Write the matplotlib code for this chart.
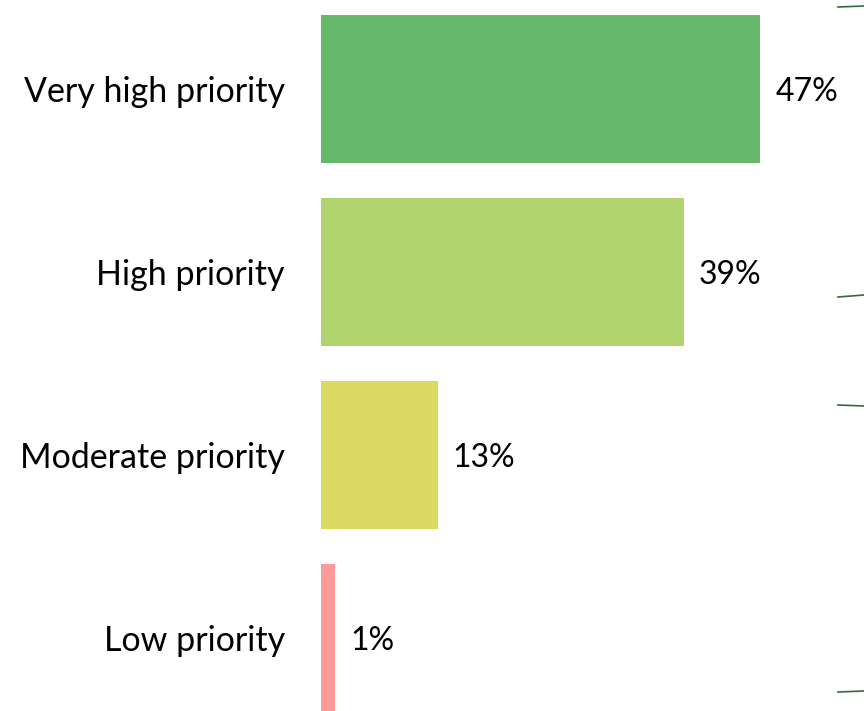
import matplotlib.pyplot as plt
from matplotlib.lines import Line2D

categories = ["Very high priority", "High priority", "Moderate priority", "Low priority"]
values = [47, 38.8, 12.5, 1.5]
labels = ["47%", "39%", "13%", "1%"]
colors = ["#66b86b", "#b1d46e", "#dbdb63", "#ff9a9a"]

plt.rcParams['font.family'] = ['Lato', 'DejaVu Sans']

fig = plt.figure(figsize=(8.64, 7.11), dpi=100)
ax = fig.add_axes([321 / 864, 0, 1 - 321 / 864, 1])

pos = list(range(len(categories)))
ax.barh(pos, values, height=0.81, color=colors)
for p, v, lab in zip(pos, values, labels):
    ax.text(v + 1.6, p + 0.015, lab, va='center', ha='left', fontsize=23, color='black')

ax.set_xlim(0, 58.1)
ax.set_ylim(3.40, -0.486)
ax.set_yticks(pos)
ax.set_yticklabels(categories, fontsize=24.5)
ax.tick_params(axis='y', length=0, pad=26)
ax.set_xticks([])
for s in ax.spines.values():
    s.set_visible(False)

# brace fragments at the right edge
for y0, y1 in [(7, 6), (297, 295), (405, 406), (692, 691)]:
    fig.add_artist(Line2D([838 / 864, 1], [1 - y0 / 711, 1 - y1 / 711],
                          color='#2f6e3e', lw=1.2))

fig.savefig("out.png", dpi=100)
